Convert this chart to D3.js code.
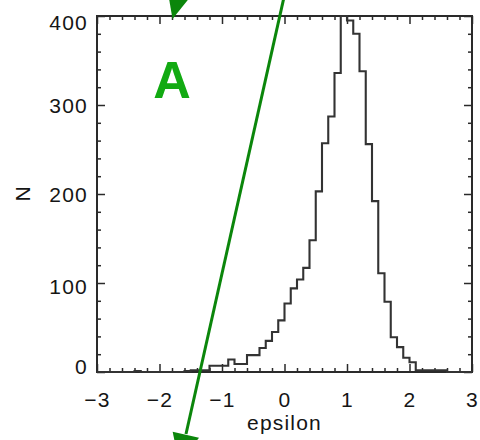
<!DOCTYPE html>
<html>
<head>
<meta charset="utf-8">
<script src="https://cdn.jsdelivr.net/npm/d3@7"></script>
<style>
  html, body { margin: 0; padding: 0; background: #ffffff; }
  svg { display: block; }
  text { font-family: "Liberation Sans", Arial, Helvetica, sans-serif; fill: #151515; }
</style>
</head>
<body>
<svg id="chart" width="480" height="440"></svg>
<script>
// Histogram of epsilon: bins of width 0.1 starting at -3.0
const binStart = -3.0;
const binWidth = 0.1;
const counts = [
  0, 0, 0, 0, 0, 0, 1, 0, 0, 0,          // -3.0 .. -2.1
  0, 0, 0, 0, 1, 2, 2, 2, 7, 7,          // -2.0 .. -1.1
  7, 14, 9, 9, 19, 19, 27, 35, 45, 58,   // -1.0 .. -0.1
  77, 94, 104, 117, 148, 203, 257, 287, 336, 400, // 0.0 .. 0.9
  395, 380, 338, 256, 192, 111, 79, 39, 28, 16,   // 1.0 .. 1.9
  11, 2, 2, 2, 2, 2, 0, 0, 0, 0          // 2.0 .. 2.9
];

const xTicks = [-3, -2, -1, 0, 1, 2, 3];
const yTicks = [0, 100, 200, 300, 400];
const xMinor = d3.range(-30, 31, 2).map(v => v / 10).filter(v => !xTicks.includes(v));
const yMinor = d3.range(0, 401, 20).filter(v => !yTicks.includes(v));
const xLabel = "epsilon";
const yLabel = "N";
const panelLabel = "A";

const svg = d3.select("#chart");
const frame = { left: 97, right: 472, top: 16, bottom: 372 };

const x = d3.scaleLinear().domain([-3, 3]).range([frame.left, frame.right]);
const y = d3.scaleLinear().domain([0, 400]).range([frame.bottom, frame.top]);

const axisColor = "#2a2a2a";
const fmt = d => (d < 0 ? "\u2212" + Math.abs(d) : String(d));

// ticks on all four sides, pointing inward
function styleAxis(g) {
  g.select(".domain").remove();
  g.selectAll(".tick line").attr("stroke", axisColor).attr("stroke-width", 1.5);
}

svg.append("g").attr("transform", `translate(0,${frame.bottom})`)
  .call(d3.axisBottom(x).tickValues(xTicks).tickSize(-8).tickPadding(20).tickFormat(fmt))
  .call(styleAxis)
  .call(g => g.selectAll("text")
    .attr("font-size", 21).attr("letter-spacing", 1.2)
    .attr("font-family", "Liberation Sans, Arial, sans-serif").attr("fill", "#151515"));
svg.append("g").attr("transform", `translate(0,${frame.bottom})`)
  .call(d3.axisBottom(x).tickValues(xMinor).tickSize(-4).tickFormat(""))
  .call(styleAxis);

svg.append("g").attr("transform", `translate(0,${frame.top})`)
  .call(d3.axisTop(x).tickValues(xTicks).tickSize(-8).tickFormat(""))
  .call(styleAxis);
svg.append("g").attr("transform", `translate(0,${frame.top})`)
  .call(d3.axisTop(x).tickValues(xMinor).tickSize(-4).tickFormat(""))
  .call(styleAxis);

svg.append("g").attr("transform", `translate(${frame.left},0)`)
  .call(d3.axisLeft(y).tickValues(yTicks).tickSize(-8).tickPadding(9).tickFormat(d3.format("d")))
  .call(styleAxis)
  .call(g => g.selectAll("text")
    .attr("font-size", 21).attr("letter-spacing", 1.2)
    .attr("font-family", "Liberation Sans, Arial, sans-serif").attr("fill", "#151515")
    .attr("dy", d => d === 400 ? "0.63em" : d === 0 ? "0.06em" : d === 100 ? "0.48em" : "0.38em"));
svg.append("g").attr("transform", `translate(${frame.left},0)`)
  .call(d3.axisLeft(y).tickValues(yMinor).tickSize(-4).tickFormat(""))
  .call(styleAxis);

svg.append("g").attr("transform", `translate(${frame.right},0)`)
  .call(d3.axisRight(y).tickValues(yTicks).tickSize(-8).tickFormat(""))
  .call(styleAxis);
svg.append("g").attr("transform", `translate(${frame.right},0)`)
  .call(d3.axisRight(y).tickValues(yMinor).tickSize(-4).tickFormat(""))
  .call(styleAxis);

// plot frame
svg.append("rect")
  .attr("x", frame.left).attr("y", frame.top)
  .attr("width", frame.right - frame.left).attr("height", frame.bottom - frame.top)
  .attr("fill", "none").attr("stroke", axisColor).attr("stroke-width", 2);

// histogram outline as a step line
const pts = counts.map((c, i) => [binStart + i * binWidth, c]);
pts.push([binStart + counts.length * binWidth, counts[counts.length - 1]]);
const step = d3.line().x(d => x(d[0])).y(d => y(d[1])).curve(d3.curveStepAfter);
svg.append("path")
  .attr("d", step(pts))
  .attr("fill", "none").attr("stroke", "#333333").attr("stroke-width", 2.1);

// axis titles
svg.append("text")
  .attr("x", x(0)).attr("y", 430)
  .attr("text-anchor", "middle").attr("font-size", 21).attr("letter-spacing", 1.2)
  .text(xLabel);
svg.append("text")
  .attr("transform", "translate(29.5,194) rotate(-90)")
  .attr("text-anchor", "middle").attr("font-size", 21)
  .text(yLabel);

// panel letter
svg.append("text")
  .attr("x", 172).attr("y", 98)
  .attr("text-anchor", "middle").attr("font-size", 52).attr("font-weight", "bold")
  .style("fill", "#12aa12")
  .text(panelLabel);

// green arrows drawn over the panel
const arrowColor = "#0b860b";
function arrowHead(tip, dir, len, half) {
  const n = Math.hypot(dir[0], dir[1]);
  const ux = dir[0] / n, uy = dir[1] / n;
  const bx = tip[0] - ux * len, by = tip[1] - uy * len;
  return [[tip[0], tip[1]], [bx - uy * half, by + ux * half], [bx + uy * half, by - ux * half]];
}
const dir = [-0.2225, 1];
const shaftStart = [284.5, -5];
const headLen = 30, headHalf = 13.5;
const tipBottom = [186 + dir[0] * headLen, 434 + headLen];
svg.append("line")
  .attr("x1", shaftStart[0]).attr("y1", shaftStart[1])
  .attr("x2", 186).attr("y2", 434)
  .attr("stroke", arrowColor).attr("stroke-width", 3);
svg.append("polygon")
  .attr("points", arrowHead(tipBottom, dir, headLen, headHalf).map(p => p.join(",")).join(" "))
  .attr("fill", arrowColor);
svg.append("polygon")
  .attr("points", arrowHead([172.5, 19], [-0.26, 1], headLen, headHalf).map(p => p.join(",")).join(" "))
  .attr("fill", arrowColor);
</script>
</body>
</html>
